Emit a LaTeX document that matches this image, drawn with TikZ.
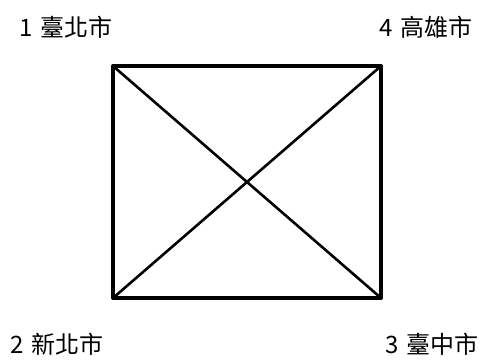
\documentclass[tikz,border=0pt]{standalone}
\usepackage{fontspec}
\setmainfont{Noto Sans CJK TC}
\begin{document}
\begin{tikzpicture}[x=1pt, y=-1pt,
    city/.style={font=\fontsize{24}{28}\selectfont, inner sep=0pt},
    edge/.style={line width=4pt, line cap=round, line join=round},
    cross/.style={line width=2.6pt}]
    \useasboundingbox (0,0) rectangle (485,360);
    % Corners of the square
    \coordinate (c1) at (113,66);
    \coordinate (c4) at (381,66);
    \coordinate (c3) at (381,298);
    \coordinate (c2) at (113,298);
    % Square and diagonals
    \draw[edge] (c1) -- (c4) -- (c3) -- (c2) -- cycle;
    \draw[cross] (c1) -- (c3);
    \draw[cross] (c4) -- (c2);
    % City labels
    \node[city] (taipei) at (66,27) {1\hspace{0.3em}臺北市};
    \node[city] (kaohsiung) at (426,27) {4\hspace{0.3em}高雄市};
    \node[city] (newtaipei) at (57,344) {2\hspace{0.3em}新北市};
    \node[city] (taichung) at (432,344) {3\hspace{0.3em}臺中市};
\end{tikzpicture}
\end{document}
